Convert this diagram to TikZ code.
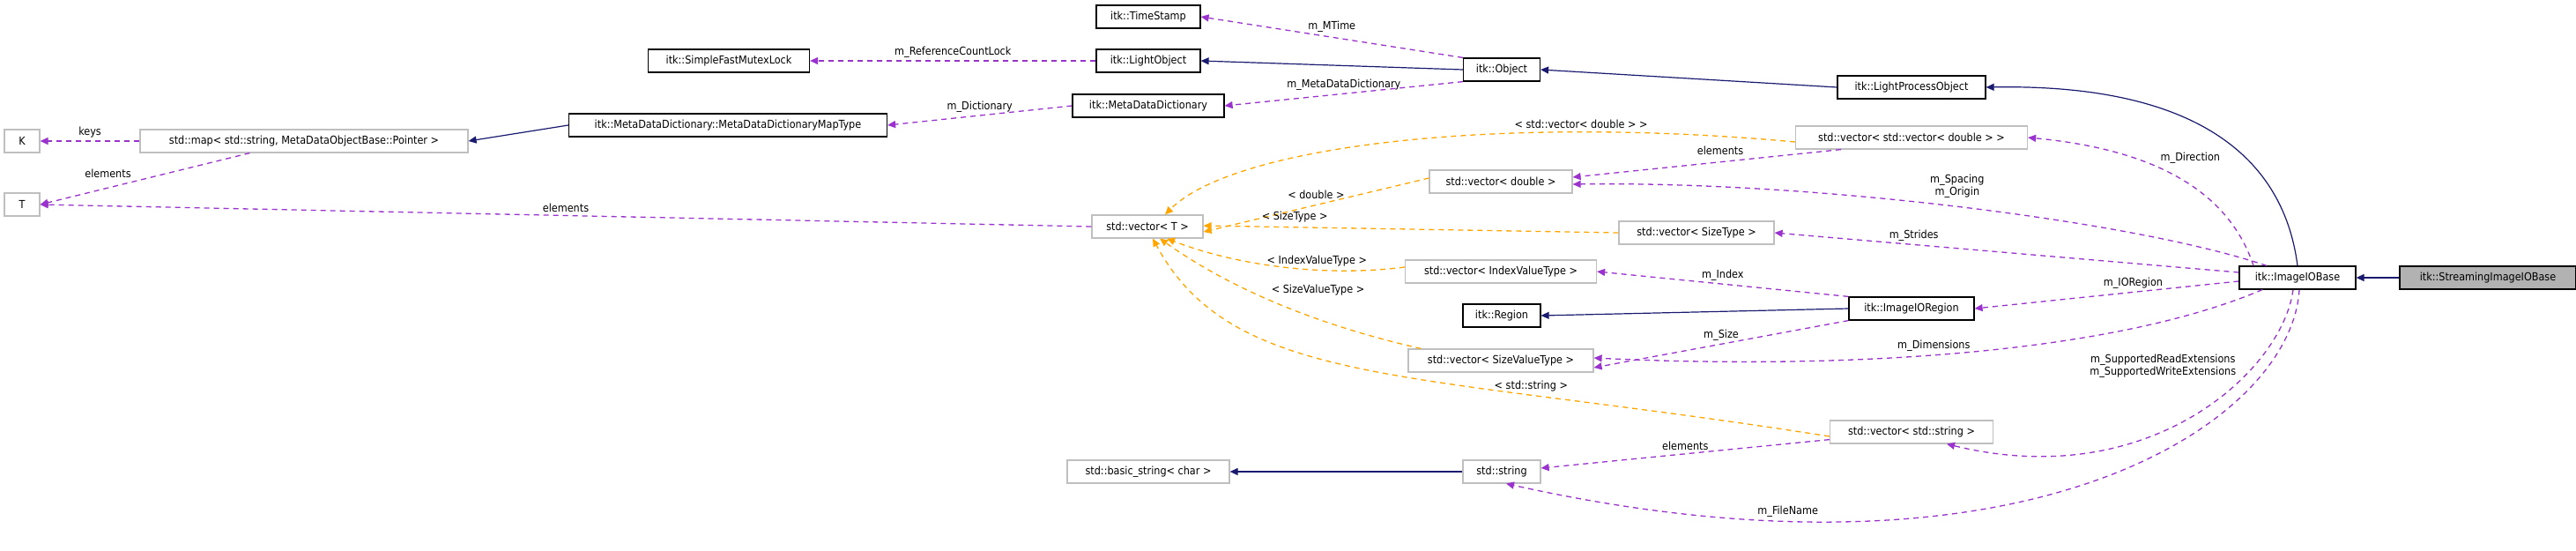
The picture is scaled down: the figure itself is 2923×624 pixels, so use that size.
\documentclass[tikz,border=0pt]{standalone}
\usepackage{fontspec}
\setmainfont{DejaVu Sans Condensed}
\usetikzlibrary{positioning}
\usetikzlibrary{shapes,arrows.meta}
\definecolor{inh}{HTML}{191970}
\definecolor{use}{HTML}{9A32CD}
\definecolor{tpl}{HTML}{FFA500}
\tikzset{
  cls/.style={draw=black, line width=1.2pt, minimum height=26pt, inner sep=2pt, font=\fontsize{12.5}{14}\selectfont},
  ext/.style={cls, draw=black!25},
  self/.style={cls, fill=black!30},
  isa/.style={draw=inh, line width=1.2pt, -{Triangle[length=9pt,width=8pt]}},
  has/.style={draw=use, dashed, dash pattern=on 6pt off 5pt, line width=1.3pt, -{Triangle[length=9pt,width=8pt]}},
  inst/.style={draw=tpl, dashed, dash pattern=on 6pt off 5pt, line width=1.3pt, -{Triangle[length=9pt,width=8pt]}},
  lbl/.style={font=\fontsize{12.5}{14}\selectfont, align=center},
}
\begin{document}
\begin{tikzpicture}[x=1pt, y=-1pt]
  \useasboundingbox (0,0) rectangle (2923,624);
  % classes
  \node[self, minimum width=200pt] (sio) at (2823,315) {itk::StreamingImageIOBase};
  \node[cls, minimum width=132pt] (iob) at (2607,315) {itk::ImageIOBase};
  \node[cls, minimum width=168pt] (lpo) at (2169,99) {itk::LightProcessObject};
  \node[cls, minimum width=87pt] (obj) at (1704,79) {itk::Object};
  \node[cls, minimum width=118pt] (lo) at (1303,69) {itk::LightObject};
  \node[cls, minimum width=118pt] (ts) at (1303,19) {itk::TimeStamp};
  \node[cls, minimum width=183pt] (mutex) at (827,69) {itk::SimpleFastMutexLock};
  \node[cls, minimum width=172pt] (mdd) at (1303,120) {itk::MetaDataDictionary};
  \node[cls, minimum width=361pt] (maptype) at (826,142) {itk::MetaDataDictionary::MetaDataDictionaryMapType};
  \node[ext, minimum width=372pt] (map) at (345,160) {std::map< std::string, MetaDataObjectBase::Pointer >};
  \node[ext, minimum width=40pt] (K) at (25,160) {K};
  \node[ext, minimum width=40pt] (T) at (25,232) {T};
  \node[ext, minimum width=126pt] (vecT) at (1302,257) {std::vector< T >};
  \node[ext, minimum width=263pt] (vvd) at (2169,156) {std::vector< std::vector< double > >};
  \node[ext, minimum width=162pt] (vd) at (1703,206) {std::vector< double >};
  \node[ext, minimum width=176pt] (vst) at (1925,264) {std::vector< SizeType >};
  \node[ext, minimum width=217pt] (vivt) at (1703,308) {std::vector< IndexValueType >};
  \node[cls, minimum width=88pt] (reg) at (1704,358) {itk::Region};
  \node[cls, minimum width=142pt] (ior) at (2169,350) {itk::ImageIORegion};
  \node[ext, minimum width=210pt] (vsvt) at (1703,409) {std::vector< SizeValueType >};
  \node[ext, minimum width=185pt] (vstr) at (2169,490) {std::vector< std::string >};
  \node[ext, minimum width=88pt] (str) at (1704,535) {std::string};
  \node[ext, minimum width=184pt] (bstr) at (1303,535) {std::basic\_string< char >};
  \coordinate (mapsw) at ([xshift=125pt]map.south west);
  % inheritance
  \draw[isa] (sio) -- (iob);
  \draw[isa] (iob.north) .. controls (2590,170) and (2480,95) .. (lpo.east);
  \draw[isa] (lpo.west) -- (obj.east);
  \draw[isa] (obj.west) -- (lo.east);
  \draw[isa] (maptype.west) -- (map.east);
  \draw[isa] (ior.west) -- (reg.east);
  \draw[isa] (str.west) -- (bstr.east);
  % members
  \draw[has] (obj.north west) -- node[lbl, above=2pt, pos=0.5] {m\_MTime} (ts.east);
  \draw[has] (lo.west) -- node[lbl, above] {m\_ReferenceCountLock} (mutex.east);
  \draw[has] (obj.south west) -- node[lbl, above] {m\_MetaDataDictionary} (mdd.east);
  \draw[has] (mdd.west) -- node[lbl, above] {m\_Dictionary} (maptype.east);
  \draw[has] (map.west) -- node[lbl, above] {keys} (K.east);
  \draw[has] (mapsw) -- node[lbl, above left, pos=0.55] {elements} (T.east);
  \draw[has] (vecT.west) -- node[lbl, above] {elements} (T.east);
  \draw[has] ([xshift=-80pt]vvd.south) -- node[lbl, above=4pt, pos=0.45] {elements} ([yshift=5pt]vd.east);
  \draw[has] ([xshift=-50pt]iob.north) .. controls (2530,220) and (2450,170) .. node[lbl, above right, pos=0.6] {m\_Direction} (vvd.east);
  \draw[has] ([xshift=-35pt]iob.north) .. controls (2420,250) and (2050,205) .. node[lbl, above=6pt, pos=0.5] {m\_Spacing\\m\_Origin} ([yshift=-3pt]vd.east);
  \draw[has] ([yshift=6pt]iob.west) -- node[lbl, above, pos=0.7] {m\_Strides} (vst.east);
  \draw[has] ([yshift=-4pt]iob.west) -- node[lbl, above, pos=0.4] {m\_IORegion} (ior.east);
  \draw[has] ([xshift=-40pt]iob.south) .. controls (2400,400) and (2100,420) .. node[lbl, above, pos=0.55] {m\_Dimensions} ([yshift=3pt]vsvt.east);
  \draw[has] (ior.north west) -- node[lbl, above, pos=0.5] {m\_Index} (vivt.east);
  \draw[has] (ior.south west) -- node[lbl, above, pos=0.5] {m\_Size} ([yshift=-8pt]vsvt.east);
  \draw[has] ([xshift=-5pt]iob.south) .. controls (2590,420) and (2440,560) .. node[lbl, above left, pos=0.35] {m\_SupportedReadExtensions\\m\_SupportedWriteExtensions} ([xshift=40pt]vstr.south);
  \draw[has] ([xshift=2pt]iob.south) .. controls (2600,480) and (2300,680) .. node[lbl, above, pos=0.8] {m\_FileName} ([xshift=5pt]str.south);
  \draw[has] ([yshift=5pt]vstr.south west) -- node[lbl, above, pos=0.5] {elements} ([yshift=4pt]str.east);
  % template instances
  \draw[inst] ([yshift=-5pt]vvd.west) .. controls (1700,130) and (1400,165) .. node[lbl, above, pos=0.25] {< std::vector< double > >} ([xshift=20pt]vecT.north);
  \draw[inst] ([yshift=4pt]vd.west) -- node[lbl, above=3pt, pos=0.5] {< double >} ([yshift=-6pt]vecT.east);
  \draw[inst] (vst.west) -- node[lbl, above=2pt, pos=0.78] {< SizeType >} ([yshift=1pt]vecT.east);
  \draw[inst] ([yshift=5pt]vivt.west) .. controls (1500,315) and (1400,300) .. node[lbl, above, pos=0.35] {< IndexValueType >} ([xshift=22pt]vecT.south);
  \draw[inst] ([xshift=15pt]vsvt.north west) .. controls (1500,370) and (1400,330) .. node[lbl, above right, pos=0.55] {< SizeValueType >} ([xshift=14pt]vecT.south);
  \draw[inst] ([yshift=-5pt]vstr.west) .. controls (1600,420) and (1400,440) .. node[lbl, above, pos=0.28] {< std::string >} ([xshift=6pt]vecT.south);
\end{tikzpicture}
\end{document}
